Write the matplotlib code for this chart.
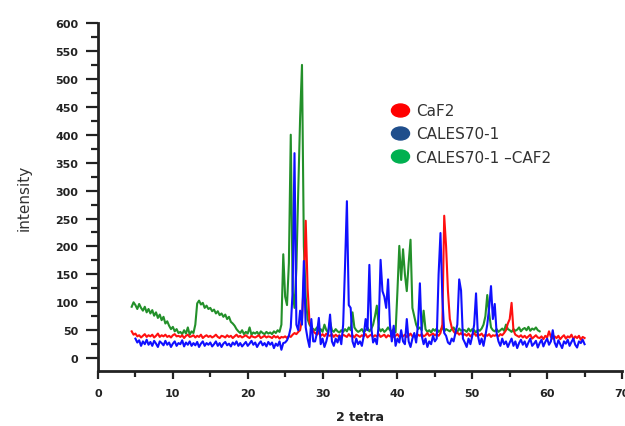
import numpy as np
import matplotlib
matplotlib.use("Agg")
import matplotlib.pyplot as plt
from matplotlib.lines import Line2D
from matplotlib.path import Path
from matplotlib.markers import MarkerStyle
from matplotlib.ticker import MultipleLocator

# ---- data (2-theta scan, 0.25 deg steps) ----
step = 0.25

blue_start, blue_end = 5.0, 65.0
blue_y = [
    35, 28, 32, 22, 30, 25, 33, 24,      # 5-7
    29, 22, 31, 26, 20, 30, 27, 23,      # 7-9
    31, 24, 28, 20, 26, 30, 22, 27,      # 9-11
    25, 32, 21, 28, 24, 30, 22, 27,      # 11-13
    23, 29, 20, 26, 30, 22, 27, 24,      # 13-15
    28, 21, 25, 30, 22, 27, 20, 26,      # 15-17
    29, 23, 26, 21, 28, 24, 30, 22,      # 17-19
    27, 21, 25, 29, 22, 26, 31, 24,      # 19-21
    28, 20, 26, 30, 23, 27, 21, 29,      # 21-23
    24, 28, 18, 26, 22, 30, 15, 27,      # 23-25
    28, 32, 40, 55, 120, 367, 60, 50,    # 25-27
    85, 60, 174, 55, 35, 20, 70, 30,     # 27-29
    30, 45, 72, 25, 35, 20, 30, 45,      # 29-31
    78, 30, 22, 35, 28, 40, 25, 60,      # 31-33
    165, 281, 95, 90, 30, 20, 35, 25,    # 33-35
    30, 22, 40, 70, 50, 167, 55, 28,     # 35-37
    35, 25, 60, 176, 120, 110, 90, 141,  # 37-39
    60, 30, 58, 22, 35, 28, 50, 30,      # 39-41
    25, 70, 30, 20, 35, 45, 28, 60,      # 41-43
    134, 40, 25, 35, 20, 30, 25, 40,     # 43-45
    30, 35, 150, 224, 110, 45, 40, 28,   # 45-47
    25, 35, 30, 45, 60, 141, 121, 35,    # 47-49
    28, 20, 35, 25, 40, 60, 116, 40,     # 49-51
    25, 35, 22, 40, 60, 90, 129, 70,     # 51-53
    97, 45, 30, 22, 35, 25, 30, 20,      # 53-55
    28, 35, 22, 30, 18, 27, 33, 24,      # 55-57
    30, 20, 28, 35, 22, 26, 31, 19,      # 57-59
    27, 33, 21, 29, 35, 24, 30, 50,      # 59-61
    28, 20, 32, 25, 18, 30, 26, 33,      # 61-63
    22, 29, 35, 24, 19, 30, 27, 33,      # 63-65
    25,
]

red_start, red_end = 4.5, 65.0
red_y = [
    48, 42,                              # 4.5-5
    44, 39, 41, 37, 40, 43, 38, 41,      # 5-7
    39, 42, 37, 40, 44, 38, 41, 39,      # 7-9
    42, 38, 40, 37, 41, 43, 39, 40,      # 9-11
    38, 41, 36, 40, 42, 38, 39, 41,      # 11-13
    37, 40, 38, 42, 36, 39, 41, 38,      # 13-15
    40, 37, 39, 42, 38, 36, 40, 39,      # 15-17
    37, 41, 38, 40, 36, 39, 42, 38,      # 17-19
    40, 37, 39, 41, 38, 36, 40, 38,      # 19-21
    37, 39, 41, 36, 38, 40, 37, 39,      # 21-23
    38, 36, 40, 37, 39, 35, 38, 37,      # 23-25
    39, 36, 40, 38, 42, 45, 43, 47,      # 25-27
    50, 70, 140, 246, 125, 65, 55, 48,   # 27-29
    45, 42, 46, 40, 43, 39, 44, 41,      # 29-31
    40, 43, 38, 42, 39, 41, 37, 42,      # 31-33
    40, 38, 43, 39, 41, 37, 42, 40,      # 33-35
    38, 41, 39, 43, 37, 40, 42, 38,      # 35-37
    41, 39, 43, 38, 40, 42, 37, 41,      # 37-39
    39, 42, 38, 40, 43, 38, 41, 39,      # 39-41
    42, 38, 40, 44, 39, 41, 37, 42,      # 41-43
    40, 43, 39, 41, 45, 40, 42, 44,      # 43-45
    41, 43, 40, 45, 60, 255, 200, 120,   # 45-47
    70, 55, 48, 44, 46, 42, 45, 41,      # 47-49
    43, 40, 44, 39, 42, 45, 40, 43,      # 49-51
    41, 44, 39, 42, 40, 43, 38, 41,      # 51-53
    40, 42, 39, 43, 41, 45, 50, 62,      # 53-55
    70, 99, 50, 42, 40, 38, 41, 37,      # 55-57
    40, 36, 39, 42, 35, 38, 41, 37,      # 57-59
    36, 39, 34, 40, 37, 48, 38, 35,      # 59-61
    39, 36, 40, 34, 38, 41, 35, 39,      # 61-63
    37, 42, 34, 39, 36, 40, 33, 38,      # 63-65
    36,
]

green_start, green_end = 4.5, 59.0
green_y = [
    92, 100,                             # 4.5-5
    95, 88, 97, 90, 85, 92, 82, 88,      # 5-7
    80, 86, 76, 82, 72, 78, 68, 74,      # 7-9
    62, 66, 58, 52, 56, 48, 52, 45,      # 9-11
    47, 43, 50, 44, 55, 42, 48, 45,      # 11-13
    60, 98, 103, 96, 99, 90, 94, 88,     # 13-15
    90, 84, 87, 80, 84, 77, 80, 74,      # 15-17
    78, 70, 74, 65, 62, 58, 52, 48,      # 17-19
    45, 50, 43, 47, 44, 55, 42, 46,      # 19-21
    44, 47, 42, 48, 45, 43, 47, 44,      # 21-23
    46, 43, 48, 45, 50, 47, 60, 186,     # 23-25
    110, 95, 170, 400, 120, 90, 160, 300,  # 25-27
    430, 525, 200, 110, 70, 60, 55, 52,  # 27-29
    50, 55, 48, 52, 47, 60, 50, 46,      # 29-31
    65, 50, 47, 52, 48, 46, 50, 47,      # 31-33
    52, 48, 55, 50, 82, 55, 50, 47,      # 33-35
    49, 52, 46, 50, 55, 48, 52, 60,      # 35-37
    75, 94, 55, 48, 52, 47, 50, 55,      # 37-39
    50, 48, 52, 46, 120, 201, 140, 195,  # 39-41
    150, 120, 170, 212, 90, 75, 60, 52,  # 41-43
    55, 50, 85, 52, 47, 50, 46, 52,      # 43-45
    49, 53, 47, 50, 55, 48, 52, 50,      # 45-47
    48, 52, 55, 50, 47, 53, 49, 51,      # 47-49
    50, 47, 53, 48, 52, 50, 46, 51,      # 49-51
    49, 53, 60, 75, 113, 80, 55, 50,     # 51-53
    48, 52, 47, 50, 53, 49, 60, 52,      # 53-55
    50, 47, 52, 49, 51, 55, 48, 52,      # 55-57
    54, 50, 56, 49, 53, 51, 55, 50,      # 57-59
    48,
]

labels = ["CaF2", "CALES70-1", "CALES70-1 \u2013CAF2"]
line_colors = {"red": "#ff1010", "blue": "#1010ff", "green": "#23902a"}
legend_colors = ["#ff0000", "#1f4e8c", "#00b050"]

x_ticks = [0, 10, 20, 30, 40, 50, 60, 70]
y_ticks = list(range(0, 601, 50))

blue_x = np.arange(blue_start, blue_end + step / 2, step)
red_x = np.arange(red_start, red_end + step / 2, step)
green_x = np.arange(green_start, green_end + step / 2, step)

# ---- figure ----
fig = plt.figure(figsize=(6.25, 4.27), dpi=100)
ax = fig.add_axes([98 / 625, (427 - 372) / 427, 524 / 625, 348 / 427])

ax.plot(green_x, green_y, color=line_colors["green"], lw=1.5)
ax.plot(red_x, red_y, color=line_colors["red"], lw=1.5)
ax.plot(blue_x, blue_y, color=line_colors["blue"], lw=1.5)

ax.set_xlim(0, 70)
ax.set_ylim(-23, 600)
ax.set_xticks(x_ticks)
ax.set_yticks(y_ticks)
ax.xaxis.set_minor_locator(MultipleLocator(5))
ax.yaxis.set_minor_locator(MultipleLocator(25))

for s in ["top", "right"]:
    ax.spines[s].set_visible(False)
for s in ["left", "bottom"]:
    ax.spines[s].set_linewidth(2)
    ax.spines[s].set_color("#222222")

ax.tick_params(axis="both", which="major", direction="out", width=1.6,
               color="#222222", labelsize=8, labelcolor="#222222")
ax.tick_params(axis="x", which="major", length=6, pad=6)
ax.tick_params(axis="y", which="major", length=9, pad=5)
ax.tick_params(axis="x", which="minor", direction="out", length=4, width=1.6, color="#222222")
ax.tick_params(axis="y", which="minor", direction="out", length=5, width=1.6, color="#222222")
for lab in ax.get_xticklabels() + ax.get_yticklabels():
    lab.set_fontweight("bold")

ax.set_xlabel("2 tetra", fontsize=9, fontweight="bold", color="#222222")
ax.xaxis.set_label_coords(0.5, -0.112)
ax.set_ylabel("intensity", fontsize=11, color="#333333")
ax.yaxis.set_label_coords(-0.126, 0.5)

# legend with elliptical markers
ell = Path.unit_circle()
ell = Path(ell.vertices * np.array([1.0, 0.72]), ell.codes)
handles = [Line2D([], [], ls="none", marker=MarkerStyle(ell), markersize=13,
                  markerfacecolor=c, markeredgecolor=c) for c in legend_colors]
leg = ax.legend(handles, labels, loc="upper left",
                bbox_to_anchor=((392 - 98) / 524, (372 - 104) / 348),
                frameon=False, fontsize=11, borderpad=0, borderaxespad=0,
                handlelength=1.0, handletextpad=0.6, labelspacing=0.55)
for t in leg.get_texts():
    t.set_color("#333333")

fig.savefig("out.png", dpi=100)
